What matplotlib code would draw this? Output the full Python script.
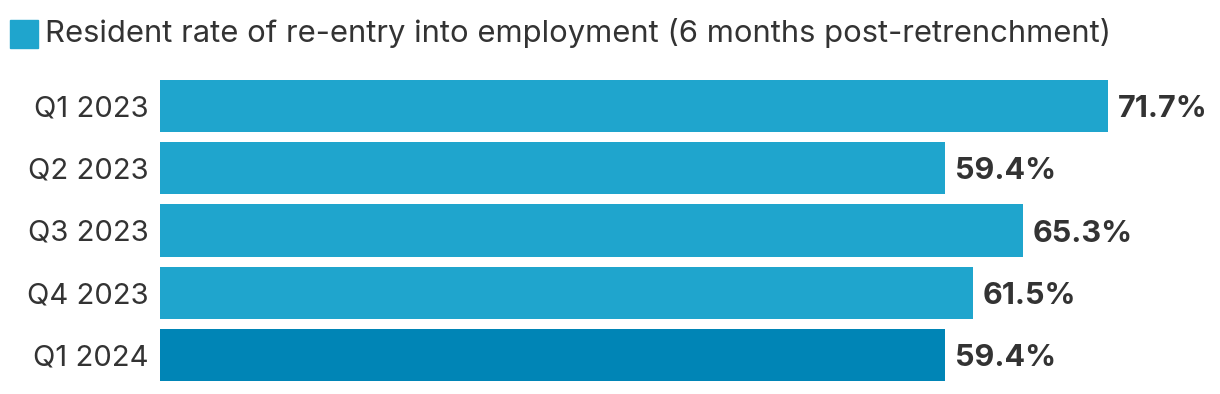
import matplotlib
matplotlib.use("Agg")
import matplotlib.pyplot as plt
from matplotlib.patches import Rectangle

categories = ["Q1 2023", "Q2 2023", "Q3 2023", "Q4 2023", "Q1 2024"]
values = [71.7, 59.4, 65.3, 61.5, 59.4]
series_name = "Resident rate of re-entry into employment (6 months post-retrenchment)"

light = "#1fa5cd"
dark = "#0085b6"
text_color = "#333333"

plt.rcParams["font.family"] = ["Inter", "DejaVu Sans"]

W, H = 1220, 394
fig = plt.figure(figsize=(W / 100, H / 100), dpi=100)
# axes from x=160 to 1160 px, y from 80 to 381 px
ax = fig.add_axes([160 / W, 1 - 381 / H, 1000 / W, 301 / H])

colors = [light] * (len(values) - 1) + [dark]
ypos = list(range(len(categories)))
bars = ax.barh(ypos, values, height=0.84, color=colors)
ax.set_xlim(0, 1000 / 13.22)
ax.set_ylim(len(categories) - 1 + 0.42, -0.42)

for b, v in zip(bars, values):
    ax.annotate(f"{v}%", (b.get_width(), b.get_y() + b.get_height() / 2),
                xytext=(7, 0), textcoords="offset points", va="center_baseline", ha="left",
                fontsize=22, fontweight="bold", color=text_color)

ax.set_yticks(ypos)
ax.set_yticklabels(categories, fontsize=21, color=text_color)
ax.tick_params(axis="y", length=0, pad=8)
ax.set_xticks([])
for s in ax.spines.values():
    s.set_visible(False)

# legend
fig.patches.append(Rectangle((10 / W, 1 - 48 / H), 28 / W, 28 / H,
                             transform=fig.transFigure, color=light))
fig.text(45 / W, 1 - 42 / H, series_name, fontsize=22.3, color=text_color, va="baseline", ha="left")

fig.savefig("out.png", dpi=100)
